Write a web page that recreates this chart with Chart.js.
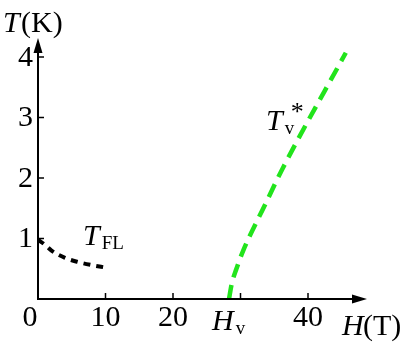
<!DOCTYPE html>
<html>
<head>
<meta charset="utf-8">
<script src="https://cdn.jsdelivr.net/npm/chart.js@4.4.1/dist/chart.umd.min.js"></script>
<style>
  html, body { margin: 0; padding: 0; background: #fff; }
  #wrap { width: 409px; height: 342px; }
</style>
</head>
<body>
<div id="wrap"><canvas id="myChart" width="409" height="342"></canvas></div>
<script>
// donnees
const flH = [0, 1, 2, 4, 6, 8, 10];
const flT = [0.98, 0.9, 0.8, 0.68, 0.61, 0.56, 0.52];

const vH = [28.3, 28.7, 29.4, 30.4, 33.6, 36.3, 45.6];
const vT = [0, 0.25, 0.5, 0.8, 1.55, 2.17, 4.07];

const xTicks = [0, 10, 20, 30, 40];
const xTickLabels = ['0', '10', '20', '', '40'];
const yTicks = [1, 2, 3, 4];
const yTickLabels = ['1', '2', '3', '4'];

const xMax = 48.74;
const yMax = 4.314;

function points(xs, ys) {
  return xs.map(function (x, i) { return { x: x, y: ys[i] }; });
}

const serif = "'Liberation Serif', 'DejaVu Serif', serif";

// axes avec fleches, graduations et textes
const axesPlugin = {
  id: 'axesPlugin',
  afterDraw(chart) {
    const c = chart.ctx;
    const xs = chart.scales.x;
    const ys = chart.scales.y;
    const x0 = xs.getPixelForValue(0);
    const y0 = ys.getPixelForValue(0);
    const xEnd = xs.getPixelForValue(xMax);
    const yEnd = ys.getPixelForValue(yMax);

    c.save();
    c.strokeStyle = '#000';
    c.fillStyle = '#000';
    c.lineWidth = 2;

    // axe x
    c.beginPath();
    c.moveTo(x0, y0);
    c.lineTo(xEnd - 10, y0);
    c.stroke();
    c.beginPath();
    c.moveTo(xEnd, y0);
    c.lineTo(xEnd - 15, y0 - 4.5);
    c.lineTo(xEnd - 15, y0 + 4.5);
    c.closePath();
    c.fill();

    // axe y
    c.beginPath();
    c.moveTo(x0, y0 + 1);
    c.lineTo(x0, yEnd + 10);
    c.stroke();
    c.beginPath();
    c.moveTo(x0, yEnd);
    c.lineTo(x0 - 4.5, yEnd + 15);
    c.lineTo(x0 + 4.5, yEnd + 15);
    c.closePath();
    c.fill();

    // graduations
    c.lineWidth = 1.5;
    xTicks.forEach(function (v) {
      if (v === 0) return;
      const px = xs.getPixelForValue(v);
      c.beginPath();
      c.moveTo(px, y0);
      c.lineTo(px, y0 - 6);
      c.stroke();
    });
    yTicks.forEach(function (v) {
      const py = ys.getPixelForValue(v);
      c.beginPath();
      c.moveTo(x0, py);
      c.lineTo(x0 + 6, py);
      c.stroke();
    });

    // etiquettes
    c.font = '30px ' + serif;
    c.textAlign = 'center';
    c.textBaseline = 'alphabetic';
    xTicks.forEach(function (v, i) {
      let px = xs.getPixelForValue(v);
      if (v === 0) px -= 8;
      c.fillText(xTickLabels[i], px, y0 + 27);
    });
    c.textAlign = 'right';
    c.textBaseline = 'middle';
    yTicks.forEach(function (v, i) {
      c.fillText(yTickLabels[i], x0 - 5, ys.getPixelForValue(v) + 1);
    });

    c.textAlign = 'left';
    c.textBaseline = 'alphabetic';
    function sym(main, x, y, sub, sup) {
      c.font = 'italic 30px ' + serif;
      c.fillText(main, x, y);
      const w = c.measureText(main).width;
      c.font = '19px ' + serif;
      if (sub) c.fillText(sub, x + w + 2, y + 4);
      if (sup) {
        c.font = '26px ' + serif;
        c.fillText(sup, x + w + 8, y - 10);
      }
    }

    // T(K)
    sym('T', 3, 32);
    c.font = '30px ' + serif;
    c.fillText('(K)', 21, 32);

    // H(T)
    sym('H', 342, 335);
    c.font = '30px ' + serif;
    c.fillText('(T)', 363, 335);

    sym('H', 212, 330, 'v');
    sym('T', 83, 245, 'FL');
    sym('T', 266, 130, 'v', '*');

    c.restore();
  }
};

const ctx = document.getElementById('myChart');

new Chart(ctx, {
  type: 'scatter',
  data: {
    datasets: [
      {
        label: 'T_FL',
        data: points(flH, flT),
        showLine: true,
        borderColor: '#000',
        borderWidth: 4,
        borderDash: [7, 6],
        borderCapStyle: 'butt',
        pointRadius: 0,
        cubicInterpolationMode: 'monotone',
        clip: false
      },
      {
        label: 'T_v*',
        data: points(vH, vT),
        showLine: true,
        borderColor: '#22e41c',
        borderWidth: 4.5,
        borderDash: [14, 8],
        borderCapStyle: 'butt',
        pointRadius: 0,
        cubicInterpolationMode: 'monotone',
        clip: false
      }
    ]
  },
  options: {
    responsive: false,
    animation: false,
    events: [],
    layout: {
      padding: { left: 38, right: 42, top: 38, bottom: 43 }
    },
    plugins: {
      legend: { display: false },
      tooltip: { enabled: false }
    },
    scales: {
      x: { type: 'linear', min: 0, max: xMax, display: false },
      y: { type: 'linear', min: 0, max: yMax, display: false }
    }
  },
  plugins: [axesPlugin]
});
</script>
</body>
</html>
